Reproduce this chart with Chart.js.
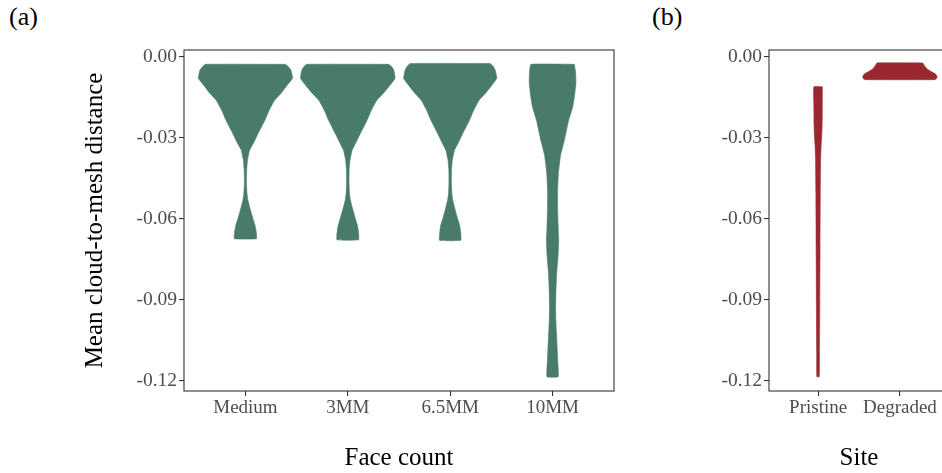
<!DOCTYPE html>
<html>
<head>
<meta charset="utf-8">
<script src="https://cdn.jsdelivr.net/npm/chart.js@4.4.1/dist/chart.umd.min.js"></script>
<style>
    html, body { margin: 0; padding: 0; background: #fff; overflow: hidden; }
    body { width: 942px; height: 473px; position: relative; }
    canvas { position: absolute; top: 0; }
    #chartA { left: 0; }
    #chartB { left: 630px; }
    .tag { position: absolute; top: 2px; font: 26px 'Liberation Serif', serif; color: #000; }
</style>
</head>
<body>
<div class="tag" style="left:9px">(a)</div>
<div class="tag" style="left:652px">(b)</div>
<canvas id="chartA" width="630" height="473"></canvas>
<canvas id="chartB" width="330" height="473"></canvas>
<script>
// categories
const faceCounts = ['Medium', '3MM', '6.5MM', '10MM'];
const sites = ['Pristine', 'Degraded'];
const yTicks = [0, -0.03, -0.06, -0.09, -0.12];

// violin outlines: distance levels and half widths (category units)
const mediumLevels = [-0.0027, -0.0036, -0.0049, -0.0079, -0.0108, -0.0131, -0.0160, -0.0197, -0.0234, -0.0282, -0.0319, -0.0345, -0.0382, -0.0419, -0.0467, -0.0504, -0.0530, -0.0567, -0.0593, -0.0622, -0.0648, -0.0673];
const mediumWidths = [0.39, 0.42, 0.445, 0.46, 0.40, 0.355, 0.285, 0.232, 0.19, 0.125, 0.078, 0.040, 0.020, 0.012, 0.010, 0.015, 0.024, 0.049, 0.069, 0.093, 0.106, 0.108];

const mm3Levels = [-0.0027, -0.0036, -0.0049, -0.0079, -0.0108, -0.0131, -0.0160, -0.0197, -0.0234, -0.0282, -0.0319, -0.0345, -0.0382, -0.0419, -0.0467, -0.0504, -0.0530, -0.0567, -0.0593, -0.0622, -0.0650, -0.0677];
const mm3Widths = [0.40, 0.43, 0.45, 0.462, 0.405, 0.355, 0.283, 0.23, 0.188, 0.124, 0.076, 0.042, 0.021, 0.013, 0.012, 0.016, 0.025, 0.050, 0.070, 0.093, 0.105, 0.106];

const mm65Levels = [-0.0024, -0.0034, -0.0049, -0.0079, -0.0108, -0.0131, -0.0160, -0.0197, -0.0234, -0.0282, -0.0319, -0.0345, -0.0382, -0.0419, -0.0467, -0.0504, -0.0530, -0.0567, -0.0593, -0.0622, -0.0652, -0.0679];
const mm65Widths = [0.39, 0.42, 0.44, 0.455, 0.40, 0.352, 0.282, 0.23, 0.188, 0.124, 0.077, 0.042, 0.021, 0.013, 0.012, 0.016, 0.025, 0.049, 0.068, 0.092, 0.103, 0.104];

const mm10Levels = [-0.0027, -0.0057, -0.0097, -0.0142, -0.0186, -0.0234, -0.0308, -0.0364, -0.0430, -0.0493, -0.0556, -0.0623, -0.0678, -0.0734, -0.0801, -0.0863, -0.0926, -0.0974, -0.1022, -0.1085, -0.1122, -0.1184];
const mm10Widths = [0.212, 0.225, 0.228, 0.215, 0.196, 0.157, 0.115, 0.078, 0.057, 0.049, 0.049, 0.054, 0.060, 0.054, 0.040, 0.033, 0.030, 0.032, 0.038, 0.046, 0.050, 0.055];

const pristineLevels = [-0.0110, -0.0178, -0.0250, -0.0290, -0.0330, -0.0380, -0.0500, -0.0700, -0.0900, -0.1100, -0.1184];
const pristineWidths = [0.052, 0.052, 0.050, 0.045, 0.037, 0.031, 0.027, 0.024, 0.021, 0.017, 0.015];

const degradedLevels = [-0.0022, -0.0034, -0.0046, -0.0055, -0.0064, -0.0073, -0.0081, -0.0084];
const degradedWidths = [0.280, 0.305, 0.341, 0.390, 0.439, 0.455, 0.445, 0.415];

const green = '#487b6b';
const red = '#9b2830';
const serif = "'Liberation Serif', serif";

function violin(center, levels, widths, color) {
    const right = levels.map((y, i) => ({ x: center + widths[i], y: y }));
    const left = levels.map((y, i) => ({ x: center - widths[i], y: y })).reverse();
    return {
        data: right.concat(left, [right[0]]),
        showLine: true,
        fill: 'shape',
        backgroundColor: color,
        borderColor: color,
        borderWidth: 0.6,
        pointRadius: 0,
        tension: 0.1
    };
}

const framePlugin = {
    id: 'frame',
    afterDraw(chart) {
        const { ctx, chartArea: a } = chart;
        ctx.save();
        ctx.strokeStyle = '#333';
        ctx.lineWidth = 1.1;
        ctx.strokeRect(a.left, a.top, a.right - a.left, a.bottom - a.top);
        ctx.restore();
    }
};

function makeChart(id, cats, datasets, axisWidth, padRight, xTitle, yTitle) {
    const ctx = document.getElementById(id).getContext('2d');
    return new Chart(ctx, {
        type: 'scatter',
        data: { datasets: datasets },
        plugins: [framePlugin],
        options: {
            responsive: false,
            animation: false,
            events: [],
            layout: { padding: { top: 50, right: padRight, left: 0, bottom: 0 } },
            plugins: { legend: { display: false }, tooltip: { enabled: false } },
            scales: {
                x: {
                    type: 'linear',
                    min: 0.4,
                    max: cats.length + 0.6,
                    afterBuildTicks: s => { s.ticks = cats.map((_, i) => ({ value: i + 1 })); },
                    afterFit: s => { s.height = 82; },
                    border: { display: false },
                    grid: { drawOnChartArea: false, drawTicks: true, tickLength: 5, color: '#333', lineWidth: 1.1 },
                    ticks: {
                        autoSkip: false, maxRotation: 0, padding: 1,
                        color: '#4d4d4d', font: { family: serif, size: 19 },
                        callback: v => cats[v - 1]
                    },
                    title: { display: true, text: xTitle, color: '#000', font: { family: serif, size: 25 }, padding: { top: 0, bottom: 0 } }
                },
                y: {
                    type: 'linear',
                    min: -0.1237,
                    max: 0.0026,
                    afterBuildTicks: s => { s.ticks = yTicks.map(v => ({ value: v })); },
                    afterFit: s => { s.width = axisWidth; },
                    border: { display: false },
                    grid: { drawOnChartArea: false, drawTicks: true, tickLength: 5, color: '#333', lineWidth: 1.1 },
                    ticks: {
                        padding: 2, color: '#4d4d4d', font: { family: serif, size: 19.5 },
                        callback: v => v.toFixed(2)
                    },
                    title: { display: !!yTitle, text: yTitle, color: '#000', font: { family: serif, size: 25 }, padding: { top: 80, bottom: 0 } }
                }
            }
        }
    });
}

const datasetsA = [
    violin(1, mediumLevels, mediumWidths, green),
    violin(2, mm3Levels, mm3Widths, green),
    violin(3, mm65Levels, mm65Widths, green),
    violin(4, mm10Levels, mm10Widths, green)
];
const datasetsB = [
    violin(1, pristineLevels, pristineWidths, red),
    violin(2, degradedLevels, degradedWidths, red)
];

makeChart('chartA', faceCounts, datasetsA, 184, 16, 'Face count', 'Mean cloud-to-mesh distance');
makeChart('chartB', sites, datasetsB, 139, 11, 'Site', '');
</script>
</body>
</html>
